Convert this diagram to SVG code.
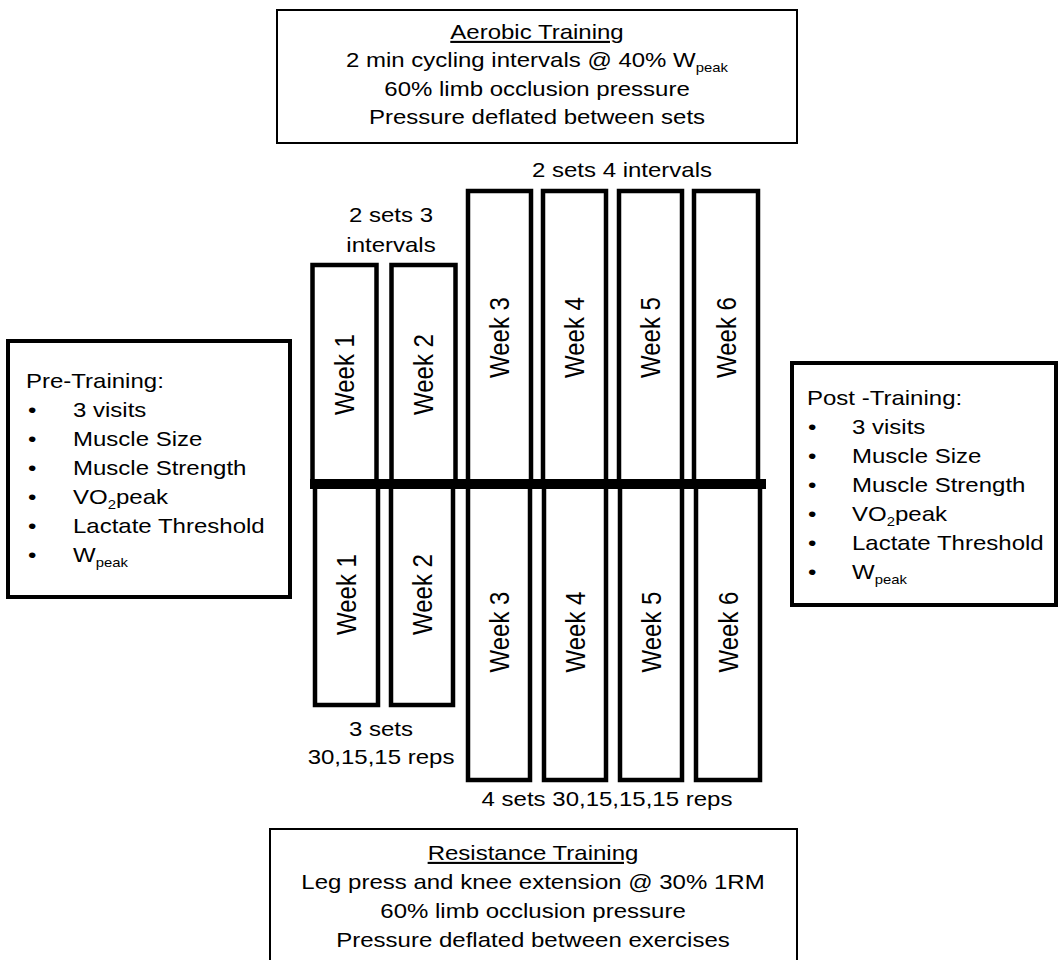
<svg xmlns="http://www.w3.org/2000/svg" width="1058" height="960" viewBox="0 0 1058 960">
<style>
  text { font-family: "Liberation Sans", Arial, sans-serif; font-size: 21px; fill: #000; }
  .c { text-anchor: middle; }
  .u { text-decoration: underline; }
  .wl { font-size: 24px; text-anchor: middle; }
  .thin { fill: #fff; stroke: #000; stroke-width: 2; }
  .thick { fill: #fff; stroke: #000; stroke-width: 4; }
  .wk { fill: #fff; stroke: #000; stroke-width: 4.5; }
  .sub { font-size: 13px; }
</style>
<rect width="1058" height="960" fill="#fff"/>

<g id="aerobic">
  <rect class="thin" x="277" y="10" width="520" height="133"/>
  <text class="c u" transform="translate(537,39) scale(1.143,1)">Aerobic Training</text>
  <text class="c" transform="translate(537,67) scale(1.143,1)">2 min cycling intervals @ 40% W<tspan class="sub" dy="5">peak</tspan></text>
  <text class="c" transform="translate(537,96) scale(1.143,1)">60% limb occlusion pressure</text>
  <text class="c" transform="translate(537,124) scale(1.143,1)">Pressure deflated between sets</text>
</g>

<g id="resistance">
  <rect class="thin" x="270" y="829" width="527" height="140"/>
  <text class="c u" transform="translate(533,860) scale(1.143,1)">Resistance Training</text>
  <text class="c" transform="translate(533,889) scale(1.143,1)">Leg press and knee extension @ 30% 1RM</text>
  <text class="c" transform="translate(533,918) scale(1.143,1)">60% limb occlusion pressure</text>
  <text class="c" transform="translate(533,947) scale(1.143,1)">Pressure deflated between exercises</text>
</g>

<g id="pre">
  <rect class="thick" x="8" y="341" width="282" height="256"/>
  <text transform="translate(26,388) scale(1.143,1)">Pre-Training:</text>
  <text transform="translate(28,417) scale(1.143,1)">•</text><text transform="translate(73,417) scale(1.143,1)">3 visits</text>
  <text transform="translate(28,446) scale(1.143,1)">•</text><text transform="translate(73,446) scale(1.143,1)">Muscle Size</text>
  <text transform="translate(28,475) scale(1.143,1)">•</text><text transform="translate(73,475) scale(1.143,1)">Muscle Strength</text>
  <text transform="translate(28,504) scale(1.143,1)">•</text><text transform="translate(73,504) scale(1.143,1)">VO<tspan class="sub" dy="5">2</tspan><tspan dy="-5">peak</tspan></text>
  <text transform="translate(28,533) scale(1.143,1)">•</text><text transform="translate(73,533) scale(1.143,1)">Lactate Threshold</text>
  <text transform="translate(28,562) scale(1.143,1)">•</text><text transform="translate(73,562) scale(1.143,1)">W<tspan class="sub" dy="5">peak</tspan></text>
</g>

<g id="post">
  <rect class="thick" x="792" y="363" width="264" height="242"/>
  <text transform="translate(807,405) scale(1.143,1)">Post -Training:</text>
  <text transform="translate(808,434) scale(1.143,1)">•</text><text transform="translate(852,434) scale(1.143,1)">3 visits</text>
  <text transform="translate(808,463) scale(1.143,1)">•</text><text transform="translate(852,463) scale(1.143,1)">Muscle Size</text>
  <text transform="translate(808,492) scale(1.143,1)">•</text><text transform="translate(852,492) scale(1.143,1)">Muscle Strength</text>
  <text transform="translate(808,521) scale(1.143,1)">•</text><text transform="translate(852,521) scale(1.143,1)">VO<tspan class="sub" dy="5">2</tspan><tspan dy="-5">peak</tspan></text>
  <text transform="translate(808,550) scale(1.143,1)">•</text><text transform="translate(852,550) scale(1.143,1)">Lactate Threshold</text>
  <text transform="translate(808,579) scale(1.143,1)">•</text><text transform="translate(852,579) scale(1.143,1)">W<tspan class="sub" dy="5">peak</tspan></text>
</g>

<g id="aerobic-labels">
  <text class="c" transform="translate(622,177) scale(1.143,1)">2 sets 4 intervals</text>
  <text class="c" transform="translate(391,222) scale(1.143,1)">2 sets 3</text>
  <text class="c" transform="translate(391,252) scale(1.143,1)">intervals</text>
</g>

<g id="aerobic-weeks">
  <g id="a-week1"><rect class="wk" x="312.5" y="265" width="64" height="219"/><text class="wl" transform="translate(344.5,374.5) scale(1.143,1) rotate(-90)" dy="8.6">Week 1</text></g>
  <g id="a-week2"><rect class="wk" x="391.5" y="265" width="64" height="219"/><text class="wl" transform="translate(423.5,374.5) scale(1.143,1) rotate(-90)" dy="8.6">Week 2</text></g>
  <g id="a-week3"><rect class="wk" x="468" y="191" width="63" height="293"/><text class="wl" transform="translate(499.5,337.5) scale(1.143,1) rotate(-90)" dy="8.6">Week 3</text></g>
  <g id="a-week4"><rect class="wk" x="543" y="191" width="63" height="293"/><text class="wl" transform="translate(574.5,337.5) scale(1.143,1) rotate(-90)" dy="8.6">Week 4</text></g>
  <g id="a-week5"><rect class="wk" x="619" y="191" width="63" height="293"/><text class="wl" transform="translate(650.5,337.5) scale(1.143,1) rotate(-90)" dy="8.6">Week 5</text></g>
  <g id="a-week6"><rect class="wk" x="694" y="191" width="64" height="293"/><text class="wl" transform="translate(726,337.5) scale(1.143,1) rotate(-90)" dy="8.6">Week 6</text></g>
</g>

<g id="resistance-weeks">
  <g id="r-week1"><rect class="wk" x="315" y="484" width="63" height="221"/><text class="wl" transform="translate(346.5,594.5) scale(1.143,1) rotate(-90)" dy="8.6">Week 1</text></g>
  <g id="r-week2"><rect class="wk" x="391" y="484" width="62" height="221"/><text class="wl" transform="translate(422,594.5) scale(1.143,1) rotate(-90)" dy="8.6">Week 2</text></g>
  <g id="r-week3"><rect class="wk" x="468" y="484" width="62" height="296"/><text class="wl" transform="translate(499,632) scale(1.143,1) rotate(-90)" dy="8.6">Week 3</text></g>
  <g id="r-week4"><rect class="wk" x="544" y="484" width="62" height="296"/><text class="wl" transform="translate(575,632) scale(1.143,1) rotate(-90)" dy="8.6">Week 4</text></g>
  <g id="r-week5"><rect class="wk" x="620" y="484" width="62" height="296"/><text class="wl" transform="translate(651,632) scale(1.143,1) rotate(-90)" dy="8.6">Week 5</text></g>
  <g id="r-week6"><rect class="wk" x="696" y="484" width="64" height="296"/><text class="wl" transform="translate(728,632) scale(1.143,1) rotate(-90)" dy="8.6">Week 6</text></g>
</g>

<g id="connectors">
  <rect id="timeline" x="310" y="479" width="456" height="10" fill="#000"/>
</g>

<g id="resistance-labels">
  <text class="c" transform="translate(381,736) scale(1.143,1)">3 sets</text>
  <text class="c" transform="translate(381,764) scale(1.143,1)">30,15,15 reps</text>
  <text class="c" transform="translate(607,806) scale(1.143,1)">4 sets 30,15,15,15 reps</text>
</g>
</svg>
